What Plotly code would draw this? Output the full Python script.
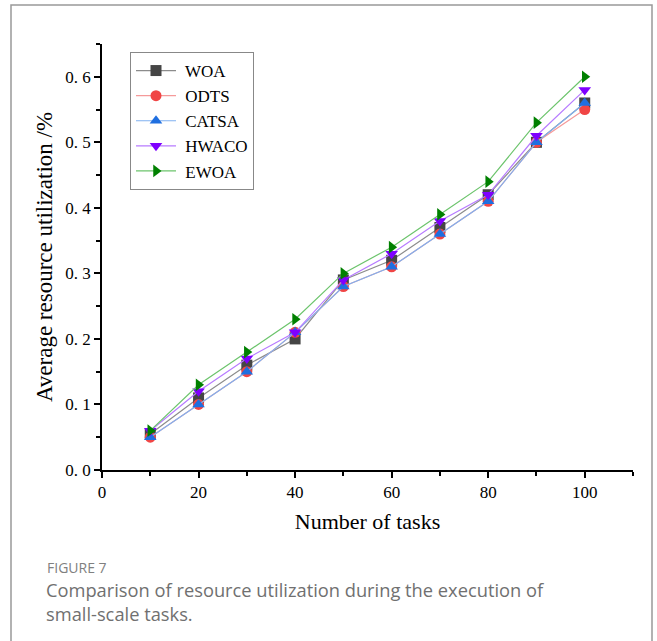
import plotly.graph_objects as go

tasks = [10, 20, 30, 40, 50, 60, 70, 80, 90, 100]
woa = [0.055, 0.11, 0.16, 0.20, 0.29, 0.32, 0.37, 0.42, 0.50, 0.56]
odts = [0.05, 0.10, 0.15, 0.21, 0.28, 0.31, 0.36, 0.41, 0.50, 0.55]
catsa = [0.05, 0.10, 0.15, 0.21, 0.28, 0.31, 0.36, 0.41, 0.50, 0.56]
hwaco = [0.06, 0.12, 0.17, 0.21, 0.29, 0.33, 0.38, 0.42, 0.51, 0.58]
ewoa = [0.06, 0.13, 0.18, 0.23, 0.30, 0.34, 0.39, 0.44, 0.53, 0.60]

series_names = ["WOA", "ODTS", "CATSA", "HWACO", "EWOA"]
series_vals = [woa, odts, catsa, hwaco, ewoa]
line_colors = ["#8c8c8c", "#f59a9a", "#7fb0f0", "#b77bff", "#6cc46c"]
marker_colors = ["#454545", "#f04545", "#1f6fe0", "#7f00ff", "#008000"]
symbols = ["square", "circle", "triangle-up", "triangle-down", "triangle-right"]

y_ticks = [0.0, 0.1, 0.2, 0.3, 0.4, 0.5, 0.6]
y_ticktext = ["0. 0", "0. 1", "0. 2", "0. 3", "0. 4", "0. 5", "0. 6"]
x_ticks = [0, 20, 40, 60, 80, 100]

fig = go.Figure()
for name, vals, lc, mc, sym in zip(series_names, series_vals, line_colors, marker_colors, symbols):
    fig.add_trace(go.Scatter(
        x=tasks, y=vals, name=" " + name, mode="lines+markers",
        line=dict(color=lc, width=1.2),
        marker=dict(symbol=sym, size=11, color=mc, line=dict(width=0)),
    ))

serif = "Liberation Serif, Times New Roman, serif"
W, H = 657, 641
ml, mr, mt, mb = 102, 24, 44, 171
pw, ph = W - ml - mr, H - mt - mb

def px_x(p):
    return (p - ml) / pw

def px_y(p):
    return (H - mb - p) / ph

fig.update_layout(
    width=W, height=H,
    margin=dict(l=ml, r=mr, t=mt, b=mb),
    paper_bgcolor="white", plot_bgcolor="white",
    showlegend=True,
    legend=dict(
        x=px_x(130), y=px_y(52), xanchor="left", yanchor="top",
        bgcolor="white", bordercolor="#888888", borderwidth=1,
        font=dict(family=serif, size=17, color="black"),
        tracegroupgap=0, itemwidth=40,
    ),
    xaxis=dict(
        range=[0, 110], tickmode="array", tickvals=x_ticks,
        ticks="outside", ticklen=6, tickwidth=1.5, tickcolor="black",
        showline=True, linecolor="black", linewidth=1.5, showgrid=False, zeroline=False,
        minor=dict(tickvals=[10, 30, 50, 70, 90, 110], ticks="outside", ticklen=4, tickwidth=1.5, tickcolor="black"),
        tickfont=dict(family=serif, size=17, color="black"),
        title=dict(text="Number of tasks", font=dict(family=serif, size=22, color="black"), standoff=12),
    ),
    yaxis=dict(
        range=[0, 0.65], tickmode="array", tickvals=y_ticks, ticktext=y_ticktext,
        ticks="outside", ticklen=6, tickwidth=1.5, tickcolor="black",
        showline=True, linecolor="black", linewidth=1.5, showgrid=False, zeroline=False,
        minor=dict(tickvals=[0.05, 0.15, 0.25, 0.35, 0.45, 0.55, 0.65], ticks="outside", ticklen=4, tickwidth=1.5, tickcolor="black"),
        tickfont=dict(family=serif, size=17, color="black"),
        title=dict(text="Average resource utilization /%", font=dict(family=serif, size=23, color="black"), standoff=6),
    ),
    shapes=[dict(
        type="rect", xref="paper", yref="paper",
        x0=px_x(11), x1=px_x(652), y0=px_y(660), y1=px_y(5),
        line=dict(color="#999999", width=1.5), fillcolor="rgba(0,0,0,0)", layer="below",
    )],
    annotations=[
        dict(text="FIGURE 7", xref="paper", yref="paper", x=px_x(45), y=px_y(556),
             xanchor="left", yanchor="top", showarrow=False,
             font=dict(family="Open Sans, sans-serif", size=14, color="#808080")),
        dict(text="Comparison of resource utilization during the execution of<br>small-scale tasks.",
             xref="paper", yref="paper", x=px_x(44), y=px_y(575),
             xanchor="left", yanchor="top", align="left", showarrow=False,
             font=dict(family="Open Sans, sans-serif", size=18.3, color="#707070")),
    ],
)

fig.write_html("out.html")
